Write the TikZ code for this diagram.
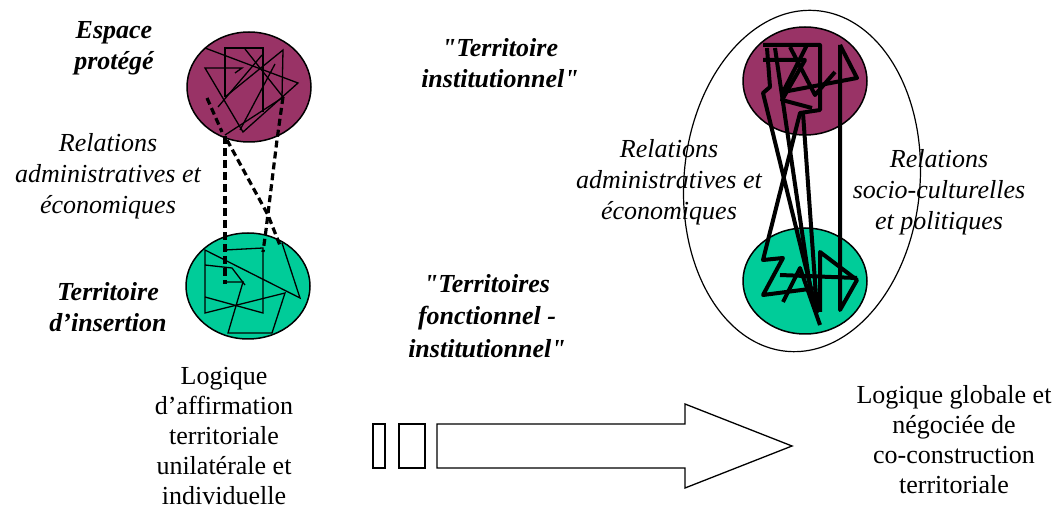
\documentclass[tikz,border=0pt]{standalone}
\usepackage{fontspec}
\setmainfont{Liberation Serif}
\newfontfamily\qf{Liberation Serif}
\definecolor{plum}{HTML}{993366}
\definecolor{tealg}{HTML}{00CC99}
\begin{document}
\begin{tikzpicture}[x=1pt,y=-1pt,
  txt/.style={inner sep=0pt, align=center, anchor=base, font=\fontsize{26}{30.5}\selectfont},
  itxt/.style={txt, font=\fontsize{26}{31}\selectfont\itshape},
  btxt/.style={txt, font=\fontsize{26}{31}\selectfont\bfseries\itshape},
  blob/.style={draw=black, line width=1.5pt},
  thinl/.style={line width=1.3pt, line join=miter},
  thickl/.style={line width=4pt, line join=round},
  dsh/.style={line width=3.2pt, dash pattern=on 7pt off 4pt},
  outl/.style={draw=black, line width=1.3pt, fill=white}]
\useasboundingbox (0,0) rectangle (1057,510);

% left ellipses
\draw[blob, fill=plum] (249,87) ellipse (62 and 55);
\draw[blob, fill=tealg] (248,286) ellipse (62 and 53);

% left top scribble
\draw[thinl] (205,48) -- (298,83) -- (243,132) -- (205,68) -- (242,68) -- (235,73);
\draw[thinl] (225,97) -- (225,48) -- (263,48) -- (263,112);
\draw[thinl] (225,97) -- (283,50) -- (282,98) -- (225,135);
\draw[thinl] (245,49) -- (283,97);
\draw[thinl] (218,107) -- (262,55);
\draw[thinl] (240,130) -- (275,64);

% left bottom scribble
\draw[thinl] (282,243) -- (300,298) -- (205,250) -- (205,313) -- (285,293) -- (272,333) -- (228,333) -- (243,282) -- (227,282);
\draw[thinl] (225,250) -- (263,248) -- (263,313) -- (205,297);
\draw[thinl] (205,265) -- (232,268) -- (245,285);

% dashed relations
\draw[dsh] (207,98) -- (222,132);
\draw[dsh, line width=4.5pt, dash pattern=on 8pt off 4pt] (225,136) -- (225,284);
\draw[dsh] (283,97) -- (277,140) -- (266,230) -- (263,252);
\draw[dsh] (227,140) -- (268,215) -- (281,248);

% right big ellipse
\draw[line width=1.2pt, rotate around={-5:(802,181)}] (802,181) ellipse (118 and 171);
\draw[blob, fill=plum] (805,81) ellipse (62 and 54);
\draw[blob, fill=tealg] (805,281) ellipse (62 and 53);

% right thick scribble
\draw[thickl] (763,45) -- (820,45) -- (820,110) -- (800,113) -- (763,260) -- (783,258) -- (763,295) -- (817,288);
\draw[thickl] (840,45) -- (857,78) -- (783,92) -- (807,45);
\draw[thickl] (767,48) -- (770,87) -- (763,93) -- (817,313);
\draw[thickl] (803,113) -- (817,310);
\draw[thickl] (840,45) -- (840,310) -- (857,280) -- (820,252) -- (820,312);
\draw[thickl] (783,302) -- (800,268) -- (820,325);
\draw[thickl] (763,60) -- (805,60) -- (782,100) -- (812,108);
\draw[thickl] (780,275) -- (857,278);
\draw[thickl] (775,48) -- (812,300);
\draw[thickl] (790,47) -- (815,95) -- (835,72);

% arrow
\node[outl, minimum width=12pt, minimum height=44pt, inner sep=0pt] (r1) at (379,446) {};
\node[outl, minimum width=26pt, minimum height=44pt, inner sep=0pt] (r2) at (412,446) {};
\draw[outl] (437,424) -- (685,424) -- (685,404) -- (792,446) -- (685,488) -- (685,468) -- (437,468) -- cycle;

% texts (anchored at the last line's baseline)
\node[btxt] (esp) at (114,70) {Espace\\protégé};
\node[itxt] (relL) at (108,214) {Relations\\administratives et\\économiques};
\node[btxt] (ins) at (108,332) {Territoire\\d’insertion};
\node[txt, font=\fontsize{26}{30}\selectfont] (logL) at (224,504) {Logique\\d’affirmation\\territoriale\\unilatérale et\\individuelle};
\node[btxt] (tinst) at (500,88) {{\qf"}Territoire\\institutionnel{\qf"}};
\node[btxt, font=\fontsize{26}{32.5}\selectfont\bfseries\itshape] (tfonc) at (487,357) {{\qf"}Territoires\\fonctionnel -\\institutionnel{\qf"}};
\node[itxt] (relR1) at (669,220) {Relations\\administratives et\\économiques};
\node[itxt] (relR2) at (939,230) {Relations\\socio-culturelles\\et politiques};
\node[txt, font=\fontsize{26}{30}\selectfont] (logR) at (954,493) {Logique globale et\\négociée de\\co-construction\\territoriale};
\end{tikzpicture}
\end{document}
